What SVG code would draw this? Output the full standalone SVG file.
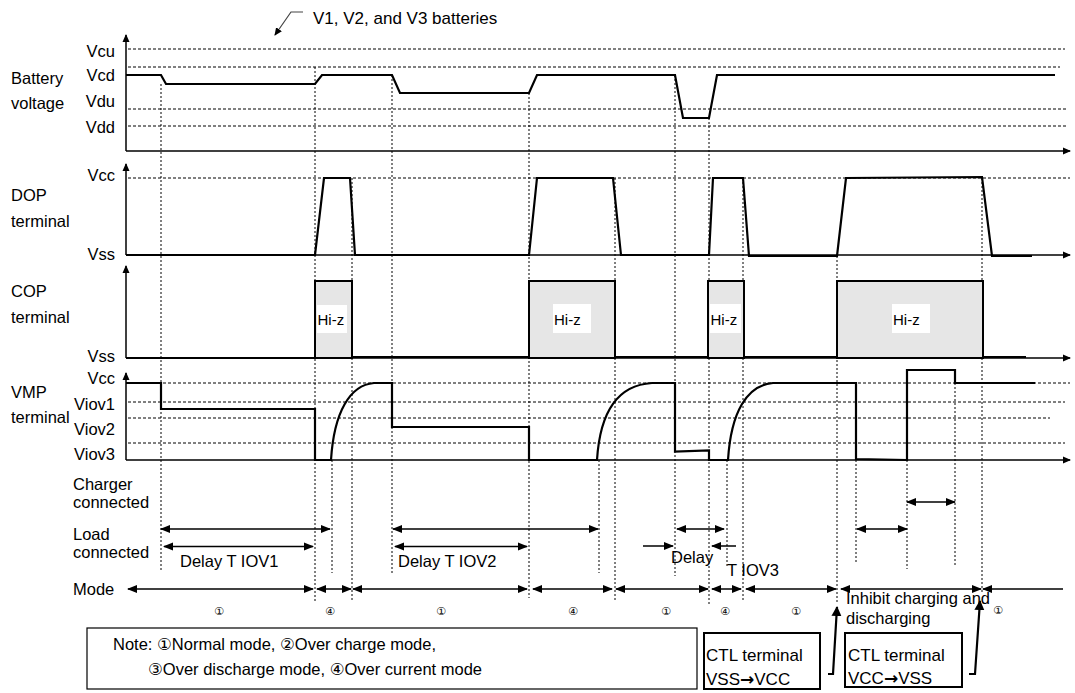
<svg xmlns="http://www.w3.org/2000/svg" width="1075" height="693" viewBox="0 0 1075 693">
<style>
text{font-family:"Liberation Sans","DejaVu Sans",Arial,sans-serif;fill:#000}
.lbl{font-size:16.5px}
.r{text-anchor:end}
.hz{font-size:15px}
.num{font-family:"DejaVu Sans","Noto Sans CJK SC",sans-serif;font-size:11px;text-anchor:middle}
.ar{font-family:"DejaVu Sans",sans-serif;font-weight:bold}
.ax{stroke:#000;stroke-width:1.5;fill:none}
.sig{stroke:#000;stroke-width:2.2;fill:none;stroke-linejoin:miter}
.hd{stroke:#000;stroke-width:1;stroke-dasharray:3 2;fill:none}
.vd{stroke:#000;stroke-width:1;stroke-dasharray:2 2;fill:none}
.da{stroke:#000;stroke-width:1.5;fill:none;marker-start:url(#as);marker-end:url(#ae)}
.sa{stroke:#000;stroke-width:1.5;fill:none;marker-end:url(#ae)}
.box{fill:#e6e6e6;stroke:#000;stroke-width:2}
.wb{fill:#fff;stroke:none}
.frame{fill:#fff;stroke:#000;stroke-width:1.2}
.frame2{fill:#fff;stroke:#000;stroke-width:2}
</style>
<defs>
<marker id="ae" markerUnits="userSpaceOnUse" markerWidth="10" markerHeight="10" viewBox="0 0 10 10" refX="9" refY="5" orient="auto"><path d="M0,1 L10,5 L0,9 Z" fill="#000"/></marker>
<marker id="as" markerUnits="userSpaceOnUse" markerWidth="10" markerHeight="10" viewBox="0 0 10 10" refX="1" refY="5" orient="auto"><path d="M10,1 L0,5 L10,9 Z" fill="#000"/></marker>
<marker id="axh" markerUnits="userSpaceOnUse" markerWidth="8" markerHeight="8" viewBox="0 0 8 8" refX="7" refY="4" orient="auto"><path d="M0,0.5 L8,4 L0,7.5 Z" fill="#000"/></marker>
<marker id="bh" markerUnits="userSpaceOnUse" markerWidth="10" markerHeight="12" viewBox="0 0 10 12" refX="9" refY="6" orient="auto"><path d="M0,1 L10,6 L0,11 Z" fill="#000"/></marker>
</defs>
<rect width="1075" height="693" fill="#fff"/>

<g id="title">
<polyline points="303,12 291,12 275,35" fill="none" stroke="#444" stroke-width="1.2" marker-end="url(#axh)"/>
<text x="313" y="24" style="font-size:17px">V1, V2, and V3 batteries</text>
</g>

<g id="labels" class="lbl">
<text x="11" y="84">Battery</text>
<text x="11" y="109">voltage</text>
<text x="115" y="57" class="r">Vcu</text>
<text x="115" y="81" class="r">Vcd</text>
<text x="115" y="107" class="r">Vdu</text>
<text x="115" y="133" class="r">Vdd</text>
<text x="11" y="201">DOP</text>
<text x="11" y="227">terminal</text>
<text x="115" y="181" class="r">Vcc</text>
<text x="115" y="260" class="r">Vss</text>
<text x="11" y="297">COP</text>
<text x="11" y="323">terminal</text>
<text x="115" y="362" class="r">Vss</text>
<text x="11" y="398">VMP</text>
<text x="11" y="423">terminal</text>
<text x="115" y="384" class="r">Vcc</text>
<text x="115" y="410" class="r">Viov1</text>
<text x="115" y="435" class="r">Viov2</text>
<text x="115" y="460" class="r">Viov3</text>
<text x="73" y="490">Charger</text>
<text x="73" y="508">connected</text>
<text x="73" y="540">Load</text>
<text x="73" y="558">connected</text>
<text x="73" y="595">Mode</text>
</g>

<g id="reference-lines">
<line class="hd" x1="128" y1="49" x2="1065" y2="49"/>
<line class="hd" x1="128" y1="67" x2="1060" y2="67"/>
<line class="hd" x1="128" y1="109" x2="1067" y2="109"/>
<line class="hd" x1="128" y1="126" x2="1067" y2="126"/>
<line class="hd" x1="128" y1="178" x2="1070" y2="178"/>
<line class="hd" x1="128" y1="383" x2="1070" y2="383"/>
<line class="hd" x1="128" y1="402" x2="1065" y2="402"/>
<line class="hd" x1="128" y1="418" x2="1050" y2="418"/>
<line class="hd" x1="128" y1="443" x2="1065" y2="443"/>
</g>

<g id="time-markers">
<line class="vd" x1="161" y1="84" x2="161" y2="572"/>
<line class="vd" x1="315" y1="67" x2="315" y2="603"/>
<line class="vd" x1="332" y1="460" x2="332" y2="573"/>
<line class="vd" x1="352" y1="178" x2="352" y2="601"/>
<line class="vd" x1="392" y1="75" x2="392" y2="573"/>
<line class="vd" x1="529" y1="93" x2="529" y2="598"/>
<line class="vd" x1="599" y1="460" x2="599" y2="573"/>
<line class="vd" x1="615" y1="178" x2="615" y2="602"/>
<line class="vd" x1="675" y1="75" x2="675" y2="576"/>
<line class="vd" x1="709" y1="118" x2="709" y2="604"/>
<line class="vd" x1="727" y1="460" x2="727" y2="568"/>
<line class="vd" x1="743" y1="178" x2="743" y2="602"/>
<line class="vd" x1="837" y1="256" x2="837" y2="604"/>
<line class="vd" x1="856" y1="460" x2="856" y2="564"/>
<line class="vd" x1="907" y1="460" x2="907" y2="569"/>
<line class="vd" x1="955" y1="383" x2="955" y2="566"/>
<line class="vd" x1="982" y1="178" x2="982" y2="592"/>
</g>

<g id="axes">
<polyline class="ax" points="126,151 126,35" marker-end="url(#axh)"/>
<polyline class="ax" points="126,151 1070,151" marker-end="url(#axh)"/>
<polyline class="ax" points="126,255 126,164" marker-end="url(#axh)"/>
<polyline class="ax" points="126,255 1070,255" marker-end="url(#axh)"/>
<polyline class="ax" points="126,358 126,266" marker-end="url(#axh)"/>
<polyline class="ax" points="126,358 1070,358" marker-end="url(#axh)"/>
<polyline class="ax" points="126,460 126,373" marker-end="url(#axh)"/>
<polyline class="ax" points="126,460 1070,460" marker-end="url(#axh)"/>
</g>

<g id="battery-signal">
<polyline class="sig" points="126,75 161,75 166,84 315,84 322,75 392,75 400,93 529,93 537,75 675,75 683,118 709,118 717,75 1055,75"/>
</g>

<g id="dop-signal">
<polyline class="sig" points="126,255 315,255 324,178 350,178 355,255 529,255 537,178 613,178 621,255 709,255 713,178 743,178 749,256 837,256 846,178 982,177 992,256 1032,256"/>
</g>

<g id="cop-signal">
<path class="sig" d="M126,358 H315 M352,357 H529 M615,357 H708 M744,357 H837 M983,357 H1026"/>
<rect class="box" x="315" y="281" width="37" height="77"/>
<rect class="box" x="529" y="281" width="86" height="77"/>
<rect class="box" x="708" y="281" width="36" height="77"/>
<rect class="box" x="837" y="281" width="146" height="77"/>
<rect class="wb" x="317" y="305" width="30" height="28"/>
<rect class="wb" x="553" y="304" width="38" height="29"/>
<rect class="wb" x="710" y="304" width="31" height="29"/>
<rect class="wb" x="892" y="304" width="38" height="29"/>
<text class="hz" x="317.5" y="325">Hi-z</text>
<text class="hz" x="554" y="325">Hi-z</text>
<text class="hz" x="710.5" y="325">Hi-z</text>
<text class="hz" x="893" y="325">Hi-z</text>
</g>

<g id="vmp-signal">
<path class="sig" d="M126,383 H161 V409 H315 V460 H331 C334,412 350,385 374,383 H392 V427 H529 V460 H597 C600,412 618,385 652,383 H675 V451.5 L709,450.5 V460 H728 C731,412 747,385 773,383 H856 V459 L907,460 V370 H955 V383 H1035"/>
</g>

<g id="connectors">
<line class="da" x1="161" y1="529" x2="330" y2="529"/>
<line class="da" x1="393" y1="529" x2="598" y2="529"/>
<line class="da" x1="677" y1="529" x2="724" y2="529"/>
<line class="da" x1="857" y1="529" x2="907" y2="529"/>
<line class="da" x1="907" y1="502" x2="955" y2="502"/>
<line class="da" x1="164" y1="546.5" x2="313" y2="546.5"/>
<line class="da" x1="395" y1="546.5" x2="527" y2="546.5"/>
<line class="sa" x1="643" y1="546" x2="673" y2="546"/>
<line class="sa" x1="736" y1="546" x2="712" y2="546"/>
<line class="da" x1="128" y1="589" x2="313" y2="589"/>
<line class="da" x1="317" y1="589" x2="351" y2="589"/>
<line class="da" x1="353" y1="589" x2="527" y2="589"/>
<line class="da" x1="533" y1="589" x2="612" y2="589"/>
<line class="da" x1="616" y1="589" x2="708" y2="589"/>
<line class="da" x1="712" y1="589" x2="741" y2="589"/>
<line class="da" x1="746" y1="589" x2="836" y2="589"/>
<line class="da" x1="841" y1="589" x2="981" y2="589"/>
<line x1="983" y1="589" x2="1063" y2="589" stroke="#000" stroke-width="1.5" marker-start="url(#as)"/>
<polyline points="828,674 833,674 837,607" fill="none" stroke="#000" stroke-width="2.2" marker-end="url(#bh)"/>
<polyline points="969,674 975,674 980,601" fill="none" stroke="#000" stroke-width="2.2" marker-end="url(#bh)"/>
</g>

<g id="timing-texts" class="lbl">
<text x="180" y="567">Delay T IOV1</text>
<text x="398" y="567">Delay T IOV2</text>
<text x="671" y="563">Delay</text>
<text x="727" y="576">T IOV3</text>
<text x="846" y="604">Inhibit charging and</text>
<text x="846" y="624">discharging</text>
</g>

<g id="mode-numbers">
<text class="num" x="219" y="615">①</text>
<text class="num" x="330" y="615">④</text>
<text class="num" x="441" y="615">①</text>
<text class="num" x="573" y="615">④</text>
<text class="num" x="666" y="615">①</text>
<text class="num" x="725" y="615">④</text>
<text class="num" x="796" y="615">①</text>
<text class="num" x="998" y="614">①</text>
</g>

<g id="note">
<rect class="frame" x="87" y="628" width="610" height="61"/>
<text x="113" y="650" style="font-size:16.5px">Note: ①Normal mode, ②Over charge mode,</text>
<text x="148" y="675" style="font-size:16.5px">③Over discharge mode, ④Over current mode</text>
</g>

<g id="ctl-vss-vcc">
<rect class="frame2" x="704" y="633" width="116" height="56"/>
<text x="706" y="661" style="font-size:17px">CTL terminal</text>
<text x="706" y="685" style="font-size:17px">VSS<tspan class="ar">→</tspan>VCC</text>
</g>

<g id="ctl-vcc-vss">
<rect class="frame2" x="845" y="633" width="117" height="54"/>
<text x="848" y="661" style="font-size:17px">CTL terminal</text>
<text x="848" y="684" style="font-size:17px">VCC<tspan class="ar">→</tspan>VSS</text>
</g>
</svg>
